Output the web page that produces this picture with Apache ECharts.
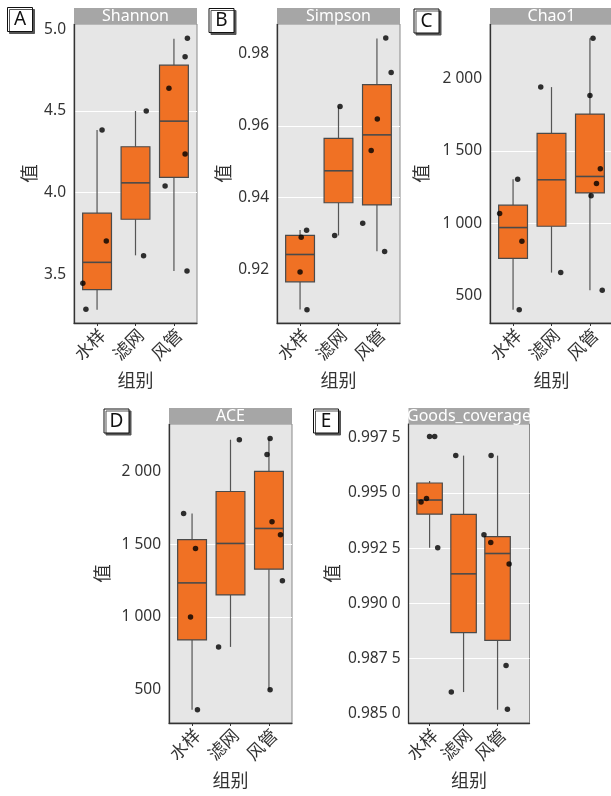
<!DOCTYPE html>
<html><head><meta charset="utf-8">
<script src="https://cdn.jsdelivr.net/npm/echarts@6/dist/echarts.min.js"></script>
<style>html,body{margin:0;padding:0;background:#fff}#c{width:611px;height:796px}</style>
</head><body><div id="c"></div>
<script>
// ---------- data ----------
const categories = ['水样', '滤网', '风管'];
const panelTitles = ['Shannon', 'Simpson', 'Chao1', 'ACE', 'Goods_coverage'];
const panelLetters = ['A', 'B', 'C', 'D', 'E'];
const yAxisName = '值';
const xAxisName = '组别';

// box statistics per group: [lower whisker, Q1, median, Q3, upper whisker]
const shannonBox = [[3.283, 3.406, 3.573, 3.874, 4.383], [3.616, 3.837, 4.060, 4.281, 4.500], [3.520, 4.093, 4.438, 4.781, 4.943]];
const simpsonBox = [[0.9089, 0.9166, 0.9242, 0.9295, 0.9310], [0.9295, 0.9386, 0.9475, 0.9565, 0.9654], [0.9251, 0.9380, 0.9575, 0.9715, 0.9843]];
const chao1Box = [[400, 756, 969, 1124, 1304], [657, 978, 1300, 1621, 1942], [534, 1209, 1323, 1755, 2280]];
const aceBox = [[362, 842, 1234, 1532, 1711], [794, 1151, 1505, 1862, 2218], [500, 1328, 1608, 2000, 2227]];
const goodsBox = [[0.99252, 0.99404, 0.99468, 0.99545, 0.99554], [0.98599, 0.98868, 0.99134, 0.99403, 0.99669], [0.98519, 0.98833, 0.99226, 0.99302, 0.99669]];

// jittered sample points: [x position (group 1..3 + jitter), value]
const shannonPoints = [[1.13, 4.383], [1.24, 3.704], [0.63, 3.445], [0.71, 3.285], [2.28, 4.500], [2.21, 3.614],
  [3.35, 4.945], [3.29, 4.832], [2.87, 4.640], [3.29, 4.236], [2.77, 4.041], [3.34, 3.520]];
const simpsonPoints = [[1.17, 0.93096], [1.03, 0.92901], [1.00, 0.91935], [1.18, 0.90885], [2.04, 0.96542], [1.90, 0.92947],
  [3.23, 0.98446], [3.37, 0.97489], [3.01, 0.96189], [2.85, 0.95316], [2.63, 0.93291], [3.20, 0.92501]];
const chao1Points = [[1.12, 1304], [0.65, 1066], [1.23, 874], [1.16, 400], [1.72, 1942], [2.24, 657],
  [3.08, 2280], [3.00, 1884], [3.27, 1376], [3.17, 1274], [3.03, 1189], [3.32, 534]];
const acePoints = [[0.78, 1711], [1.09, 1470], [0.96, 1000], [1.14, 362], [2.23, 2218], [1.69, 794],
  [3.03, 2227], [2.95, 2117], [3.08, 1654], [3.30, 1564], [3.35, 1248], [3.03, 500]];
const goodsPoints = [[1.00, 0.99755], [1.15, 0.99755], [0.75, 0.99459], [0.91, 0.99475], [1.24, 0.99252],
  [1.77, 0.99669], [1.64, 0.98599],
  [2.81, 0.99669], [2.60, 0.99311], [2.80, 0.99276], [3.34, 0.99179], [3.25, 0.98719], [3.29, 0.98521]];

// y-axis tick labels
const shannonTicks = [3.5, 4.0, 4.5, 5.0];
const simpsonTicks = [0.92, 0.94, 0.96, 0.98];
const chao1Ticks = [500, 1000, 1500, 2000];
const aceTicks = [500, 1000, 1500, 2000];
const goodsTicks = [0.985, 0.9875, 0.99, 0.9925, 0.995, 0.9975];
const groupPositions = [1, 2, 3];

// ---------- layout / style ----------
const FONT = '"Noto Sans", "Noto Sans CJK SC", sans-serif';
const TXT = '#333333';
const ORANGE = '#F07124';
const panels = [
  {box: shannonBox, pts: shannonPoints, ticks: shannonTicks, left: 74, top: 24, width: 123, xr: [0.4, 3.6], yr: [3.2015, 5.033], step: 0.5, fmt: v => v.toFixed(1), nameGap: 34, letter: [7.5, 7.5]},
  {box: simpsonBox, pts: simpsonPoints, ticks: simpsonTicks, left: 277, top: 24, width: 123, xr: [0.4, 3.6], yr: [0.90513, 0.98836], step: 0.02, fmt: v => v.toFixed(2), nameGap: 42, letter: [209, 8.5]},
  {box: chao1Box, pts: chao1Points, ticks: chao1Ticks, left: 490, top: 24, width: 123, xr: [0.4, 3.6], yr: [308, 2379], step: 500, fmt: v => thousands(v), nameGap: 58, letter: [414, 9]},
  {box: aceBox, pts: acePoints, ticks: aceTicks, left: 169, top: 424, width: 123, xr: [0.4, 3.6], yr: [271, 2326], step: 500, fmt: v => thousands(v), nameGap: 56, letter: [104, 409]},
  {box: goodsBox, pts: goodsPoints, ticks: goodsTicks, left: 408.5, top: 424, width: 121, xr: [0.38, 3.94], yr: [0.98459, 0.99812], step: 0.0025, fmt: v => { const s = v.toFixed(4); return s.slice(0, 5) + ' ' + s.slice(5); }, nameGap: 66, letter: [313.5, 409]}
];
const PH = 299;

function thousands(v) {
  const s = String(Math.round(v));
  return s.length > 3 ? s.slice(0, s.length - 3) + ' ' + s.slice(s.length - 3) : s;
}

function renderBox(params, api) {
  const x = api.value(0);
  const pMin = api.coord([x, api.value(1)]);
  const pQ1 = api.coord([x, api.value(2)]);
  const pMd = api.coord([x, api.value(3)]);
  const pQ3 = api.coord([x, api.value(4)]);
  const pMax = api.coord([x, api.value(5)]);
  const w = api.size([0.75, 0])[0];
  const cx = pMin[0];
  return {
    type: 'group',
    children: [
      {type: 'line', shape: {x1: cx, y1: pMax[1], x2: cx, y2: pQ3[1]}, style: {stroke: '#555', lineWidth: 1.2}},
      {type: 'line', shape: {x1: cx, y1: pQ1[1], x2: cx, y2: pMin[1]}, style: {stroke: '#555', lineWidth: 1.2}},
      {type: 'rect', shape: {x: cx - w / 2, y: pQ3[1], width: w, height: pQ1[1] - pQ3[1]}, style: {fill: ORANGE, stroke: '#4a4a4a', lineWidth: 1.2}},
      {type: 'line', shape: {x1: cx - w / 2, y1: pMd[1], x2: cx + w / 2, y2: pMd[1]}, style: {stroke: '#4a4a4a', lineWidth: 1.6}}
    ]
  };
}

const grid = [], xAxis = [], yAxis = [], series = [], graphic = [];
panels.forEach((p, i) => {
  grid.push({left: p.left, top: p.top, width: p.width, height: PH, show: true, backgroundColor: '#E6E6E6', borderColor: '#8a8a8a', borderWidth: 1, containLabel: false, outerBoundsMode: 'none'});
  xAxis.push({
    gridIndex: i, type: 'value', min: p.xr[0], max: p.xr[1], minInterval: 1, maxInterval: 1,
    axisLine: {show: true, onZero: false, lineStyle: {color: '#333', width: 1.3}},
    axisTick: {show: true, customValues: groupPositions, length: 3, lineStyle: {color: '#333'}},
    axisLabel: {show: true, customValues: groupPositions, formatter: v => categories[Math.round(v) - 1], rotate: 45, align: 'right', verticalAlign: 'top', hideOverlap: false, fontSize: 17.5, color: TXT, margin: 4, fontFamily: FONT},
    splitLine: {show: false},
    name: xAxisName, nameLocation: 'middle', nameGap: 50, nameTextStyle: {fontSize: 18, color: TXT, fontFamily: FONT}
  });
  yAxis.push({
    gridIndex: i, type: 'value', min: p.yr[0], max: p.yr[1], minInterval: p.step, maxInterval: p.step,
    axisLine: {show: true, onZero: false, lineStyle: {color: '#333', width: 1.3}},
    axisTick: {show: false, customValues: p.ticks},
    axisLabel: {show: true, customValues: p.ticks, formatter: p.fmt, fontSize: 15.5, color: TXT, margin: 8, fontFamily: FONT},
    splitLine: {show: true, showMinLine: false, showMaxLine: false, lineStyle: {color: '#ffffff', width: 1.2}},
    name: yAxisName, nameLocation: 'middle', nameGap: p.nameGap, nameTextStyle: {fontSize: 18.5, color: TXT, fontFamily: FONT}
  });
  series.push({
    type: 'custom', xAxisIndex: i, yAxisIndex: i, renderItem: renderBox,
    encode: {x: 0, y: [1, 2, 3, 4, 5]},
    data: p.box.map((b, k) => [groupPositions[k]].concat(b)), z: 2, silent: true
  });
  series.push({
    type: 'scatter', xAxisIndex: i, yAxisIndex: i, data: p.pts, symbolSize: 5.5,
    itemStyle: {color: '#000'}, z: 3, silent: true
  });
  // facet strip
  graphic.push({type: 'rect', left: p.left, top: p.top - 16, shape: {width: p.width, height: 16}, style: {fill: '#A6A6A6'}, z: 10});
  graphic.push({type: 'text', x: p.left + p.width / 2, y: p.top - 7.5, style: {text: panelTitles[i], fill: '#fff', font: '16px ' + FONT, textAlign: 'center', textVerticalAlign: 'middle'}, z: 11});
  // panel letter box
  graphic.push({type: 'rect', shape: {x: p.letter[0], y: p.letter[1], width: 25, height: 24}, style: {fill: '#fff', stroke: '#111', lineWidth: 1, shadowColor: '#555', shadowOffsetX: 2, shadowOffsetY: 2, shadowBlur: 0}, z: 10});
  graphic.push({type: 'text', x: p.letter[0] + 12.5, y: p.letter[1] + 12.5, style: {text: panelLetters[i], fill: '#111', font: '19px ' + FONT, textAlign: 'center', textVerticalAlign: 'middle'}, z: 11});
});

const chart = echarts.init(document.getElementById('c'), null, {renderer: 'canvas'});
chart.setOption({
  animation: false,
  backgroundColor: '#ffffff',
  textStyle: {fontFamily: FONT},
  grid, xAxis, yAxis, series, graphic
});
</script>
</body></html>
